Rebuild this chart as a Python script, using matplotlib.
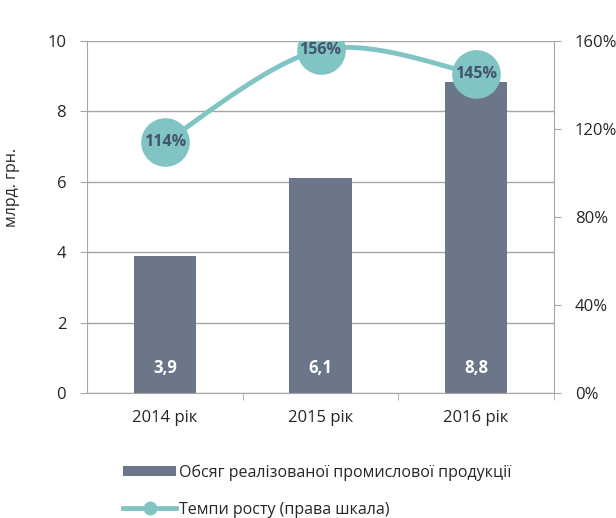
import numpy as np
import matplotlib
matplotlib.use("Agg")
import matplotlib.pyplot as plt
from matplotlib.lines import Line2D
from matplotlib.patches import Patch

plt.rcParams['font.family'] = ['Open Sans', 'DejaVu Sans']

categories = ["2014 рік", "2015 рік", "2016 рік"]
volume = [3.9, 6.1, 8.84]
volume_labels = ["3,9", "6,1", "8,8"]
growth = [114, 156, 145]
growth_labels = ["114%", "156%", "145%"]

bar_color = "#6B7789"
line_color = "#80C4C4"
grid_color = "#A6A6A6"
text_color = "#262626"

fig = plt.figure(figsize=(6.16, 5.18), dpi=100)
ax = fig.add_axes([87/616, 1-393/518, (554-87)/616, (393-41)/518])
ax2 = ax.twinx()

x = np.arange(len(categories))
ax.bar(x, volume, width=0.4, color=bar_color, zorder=2)
for xi, v, lab in zip(x, volume, volume_labels):
    ax.text(xi, 0.7, lab, ha='center', va='center', color='white',
            fontsize=12, fontweight='bold', zorder=3)

ax.set_xlim(-0.5, 2.5)
ax.set_ylim(0, 10)
ax.set_yticks([0, 2, 4, 6, 8, 10])
ax.yaxis.grid(True, color=grid_color, linewidth=1.0, zorder=0)
ax.set_axisbelow(True)
ax.set_xticks(x)
ax.set_xticklabels(categories)
ax.set_xticks([0.5, 1.5, 2.5], minor=True)
ax.tick_params(axis='x', which='major', length=0, pad=12, labelsize=12, labelcolor=text_color)
ax.tick_params(axis='x', which='minor', length=5, color=grid_color, direction='out')
ax.tick_params(axis='y', length=5, color=grid_color, labelsize=12, labelcolor=text_color, pad=10)
ax.set_ylabel("млрд. грн.", fontsize=11.5, color=text_color)
ax.yaxis.set_label_coords(-0.143, 0.585)

for s in ['top']:
    ax.spines[s].set_visible(False)
    ax2.spines[s].set_visible(False)
ax.spines['left'].set_color(grid_color)
ax.spines['bottom'].set_color(grid_color)
ax.spines['right'].set_visible(False)
ax2.spines['right'].set_color(grid_color)
ax2.spines['left'].set_visible(False)
ax2.spines['bottom'].set_visible(False)

# smoothed line (Catmull-Rom style bezier)
gx = np.array(x, dtype=float)
gy = np.array(growth, dtype=float)
pts = np.column_stack([gx, gy])
ext = np.vstack([pts[0], pts, pts[-1]])
t = np.linspace(0, 1, 60)
curve = []
for i in range(len(pts) - 1):
    p0, p1, p2, p3 = ext[i], ext[i+1], ext[i+2], ext[i+3]
    c1 = p1 + (p2 - p0) / 6
    c2 = p2 - (p3 - p1) / 6
    b = ((1-t)**3)[:, None]*p1 + (3*(1-t)**2*t)[:, None]*c1 + (3*(1-t)*t**2)[:, None]*c2 + (t**3)[:, None]*p2
    curve.append(b)
curve = np.vstack(curve)
ax2.plot(curve[:, 0], curve[:, 1], color=line_color, linewidth=3.5, zorder=3, solid_capstyle='round')
ax2.plot(gx, gy, linestyle='none', marker='o', markersize=34, color=line_color, zorder=4)
for xi, g, lab in zip(gx, gy, growth_labels):
    ax2.text(xi, g, lab, ha='center', va='center', color='#44546A',
             fontsize=11.5, fontweight='bold', zorder=5)

ax2.set_ylim(0, 160)
ax2.set_yticks([0, 40, 80, 120, 160])
ax2.set_yticklabels([f"{v}%" for v in [0, 40, 80, 120, 160]])
ax2.tick_params(axis='y', length=5, color=grid_color, labelsize=12, labelcolor=text_color, pad=10)

handles = [Patch(facecolor=bar_color, edgecolor='none'),
           Line2D([0], [0], color=line_color, linewidth=3.5, marker='o', markersize=9)]
labels = ["Обсяг реалізованої промислової продукції", "Темпи росту (права шкала)"]
fig.legend(handles, labels, loc='upper left', bbox_to_anchor=(109/616, 1-450/518),
           frameon=False, fontsize=11.5, handlelength=3.3, handleheight=0.6,
           labelspacing=1.3, handletextpad=0.2, labelcolor=text_color)

fig.savefig("out.png", dpi=100)
